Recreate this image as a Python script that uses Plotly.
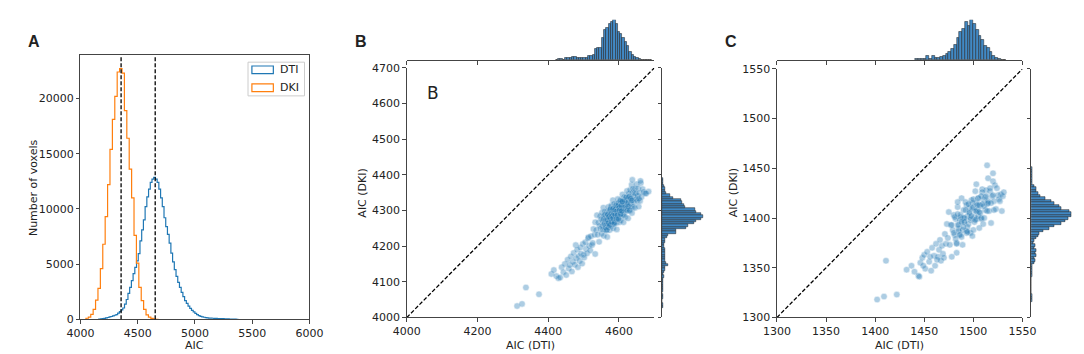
"""
AIC comparison of DTI and DKI fits: histograms and joint scatter plots.
"""

import numpy as np
import plotly.graph_objects as go

W, H = 1084, 354

# ---- panel A: step histograms of AIC per voxel ----
dti_bin_start, dti_bin_width = 4160, 15
dti_counts = [20, 40, 60, 90, 130, 170, 220, 260, 310, 370, 430, 560, 700, 850, 1030,
              1380, 1800, 2350, 2900, 3500, 4150, 4700, 5300, 5950, 7100, 8100, 9000,
              10200, 11100, 11800, 12400, 12700, 12850, 12700, 12400, 11800, 11000, 10200,
              9200, 8400, 7700, 6900, 6000, 5200, 4500, 3900, 3350, 2900, 2450, 2050, 1700,
              1450, 1200, 1000, 820, 680, 540, 420, 330, 270, 220, 190, 160, 140, 120, 110,
              100, 90, 80, 75, 70, 65, 60, 50, 40, 35, 30, 25, 20, 15, 10]
dki_bin_start, dki_bin_width = 4048, 21
dki_counts = [100, 200, 450, 900, 1750, 2800, 4600, 6800, 9300, 12200, 15400, 18100,
              20200, 22400, 22700, 22300, 18900, 16400, 13600, 11000, 7600, 5100, 2900,
              1700, 900, 400, 200, 80, 30, 10]
aic_medians = [4355, 4653]

# ---- panel B: whole-brain AIC, DTI vs DKI ----
b_lim = [4000, 4700]
b_points = [
    # outliers and lower tail
    (4312, 4032), (4326, 4038), (4337, 4084), (4374, 4065),
    (4409, 4122), (4416, 4133), (4423, 4116), (4429, 4110), (4434, 4112), (4438, 4141),
    (4443, 4127), (4447, 4150), (4451, 4119), (4455, 4162), (4458, 4137), (4461, 4147),
    (4464, 4171), (4467, 4129), (4470, 4156), (4472, 4181), (4475, 4148), (4478, 4203),
    (4479, 4166), (4482, 4190), (4484, 4141), (4486, 4172), (4489, 4158), (4491, 4196),
    (4493, 4179), (4496, 4151), (4498, 4206), (4500, 4176), (4502, 4168), (4505, 4211),
    (4507, 4192), (4510, 4180), (4513, 4222), (4514, 4225), (4516, 4201), (4519, 4188),
    (4521, 4228), (4524, 4203), (4533, 4178),
    # main cloud
    (4526, 4209), (4528, 4248), (4531, 4232), (4533, 4267), (4536, 4245), (4538, 4287),
    (4540, 4232), (4542, 4266), (4544, 4212), (4545, 4257), (4547, 4284), (4548, 4249),
    (4550, 4276), (4551, 4235), (4552, 4294), (4553, 4256), (4554, 4271), (4555, 4247),
    (4556, 4308), (4557, 4229), (4558, 4285), (4559, 4265), (4560, 4297), (4561, 4246),
    (4562, 4274), (4563, 4259), (4564, 4285), (4565, 4243), (4566, 4297), (4567, 4226),
    (4568, 4284), (4569, 4268), (4570, 4310), (4571, 4262), (4572, 4277), (4573, 4296),
    (4574, 4245), (4575, 4283), (4576, 4260), (4577, 4309), (4578, 4256), (4579, 4315),
    (4580, 4278), (4581, 4293), (4582, 4269), (4583, 4329), (4584, 4250), (4585, 4307),
    (4586, 4287), (4587, 4319), (4588, 4267), (4589, 4295), (4590, 4281), (4591, 4307),
    (4592, 4265), (4593, 4318), (4594, 4247), (4595, 4306), (4596, 4290), (4597, 4332),
    (4598, 4283), (4599, 4298), (4600, 4318), (4601, 4267), (4602, 4305), (4603, 4281),
    (4604, 4330), (4605, 4272), (4606, 4311), (4607, 4293), (4608, 4327), (4609, 4303),
    (4610, 4345), (4611, 4289), (4612, 4322), (4613, 4267), (4614, 4312), (4615, 4338),
    (4616, 4304), (4617, 4330), (4618, 4282), (4619, 4321), (4620, 4303), (4621, 4338),
    (4622, 4314), (4623, 4355), (4624, 4299), (4625, 4332), (4626, 4278), (4627, 4323),
    (4628, 4348), (4629, 4314), (4630, 4340), (4631, 4299), (4632, 4358), (4633, 4320),
    (4634, 4335), (4635, 4311), (4636, 4372), (4637, 4293), (4638, 4349), (4639, 4329),
    (4640, 4361), (4641, 4310), (4642, 4338), (4643, 4323), (4644, 4349), (4645, 4307),
    (4646, 4361), (4648, 4348), (4649, 4332), (4650, 4374), (4652, 4327), (4653, 4341),
    (4655, 4362), (4656, 4311), (4658, 4349), (4660, 4327), (4662, 4377), (4664, 4338),
    (4667, 4360), (4670, 4352), (4674, 4348),
    (4556.5, 4276), (4558.5, 4262), (4560.5, 4288), (4562.5, 4252), (4564.5, 4274),
    (4566.5, 4263), (4568.5, 4290), (4570.5, 4253), (4572.5, 4284), (4574.5, 4278),
    (4576.5, 4305), (4578.5, 4269), (4580.5, 4292), (4582.5, 4279), (4584.5, 4305),
    (4586.5, 4262), (4588.5, 4291), (4590.5, 4305), (4592.5, 4282), (4594.5, 4300),
    (4596.5, 4277), (4598.5, 4321), (4600.5, 4296), (4602.5, 4311), (4604.5, 4288),
    (4606.5, 4304), (4608.5, 4325), (4610.5, 4299), (4612.5, 4313), (4614.5, 4287),
    (4616.5, 4324), (4618.5, 4310), (4620.5, 4336), (4622.5, 4300), (4624.5, 4322),
    (4626.5, 4311), (4628.5, 4338), (4630.5, 4301), (4633.5, 4333), (4636.5, 4328),
    (4566, 4246), (4568, 4274), (4569, 4288), (4571, 4265), (4572, 4282), (4574, 4259),
    (4575, 4302), (4577, 4278), (4578, 4291), (4580, 4268), (4581, 4284), (4583, 4304),
    (4584, 4278), (4586, 4292), (4587, 4265), (4589, 4302), (4590, 4287), (4592, 4314),
    (4593, 4276), (4595, 4298), (4596, 4287), (4598, 4313), (4599, 4276), (4601, 4307),
    (4602, 4300), (4604, 4327), (4605, 4290), (4607, 4314), (4608, 4299), (4610, 4325),
    # upper right stragglers
    (4638, 4386), (4661, 4383), (4684, 4353), (4677, 4348), (4657, 4333),
]
b_top_start, b_top_width = 4421, 6.5
b_top_counts = [1, 2, 2, 1, 3, 4, 4, 5, 5, 4, 4, 3, 3, 4, 6, 7, 8, 17, 18, 19, 33, 45,
                49, 55, 57, 60, 55, 43, 40, 34, 28, 21, 12, 8, 5, 3, 2, 1, 1, 1, 1, 1]
b_right_start, b_right_width = 4027, 6.5
b_right_counts = [2, 2, 0, 0, 1, 2, 0, 1, 2, 1, 1, 1, 2, 3, 2, 3, 4, 5, 9, 6, 4, 5, 5, 4,
                  5, 4, 3, 3, 4, 5, 7, 9, 20, 21, 35, 38, 48, 51, 57, 60, 58, 50, 49, 34,
                  32, 30, 28, 17, 12, 6, 5, 4, 3, 1, 1, 1]

# ---- panel C: white-matter AIC, DTI vs DKI ----
c_lim = [1300, 1550]
c_points = [
    # outliers and lower tail
    (1402, 1318), (1409, 1321), (1422, 1323), (1411, 1357),
    (1432, 1348), (1437, 1352), (1440, 1346), (1444, 1342), (1445, 1341), (1446, 1355),
    (1448, 1360), (1450, 1363), (1451, 1349), (1453, 1366), (1455, 1356), (1457, 1347),
    (1458, 1370), (1460, 1362), (1461, 1352), (1462, 1374), (1464, 1361), (1465, 1368),
    (1466, 1378), (1467, 1357), (1468, 1372), (1469, 1364), (1483, 1365), (1449, 1352),
    (1456, 1361), (1463, 1358),
    # main cloud
    (1470, 1360), (1471, 1384), (1472, 1374), (1473, 1394), (1474, 1380), (1475, 1406),
    (1476, 1373), (1477, 1393), (1478, 1361), (1479, 1388), (1480, 1403), (1481, 1383),
    (1482, 1399), (1483, 1375), (1484, 1411), (1485, 1389), (1486, 1398), (1487, 1383),
    (1488, 1420), (1489, 1373), (1490, 1408), (1491, 1396), (1492, 1416), (1493, 1385),
    (1494, 1402), (1495, 1394), (1496, 1410), (1497, 1385), (1498, 1418), (1499, 1382),
    (1500, 1411), (1501, 1401), (1502, 1427), (1503, 1399), (1504, 1408), (1505, 1420),
    (1506, 1390), (1507, 1412), (1508, 1399), (1509, 1429), (1510, 1394), (1511, 1418),
    (1512, 1408), (1513, 1428), (1514, 1414), (1515, 1440), (1516, 1407), (1517, 1427),
    (1518, 1395), (1519, 1422), (1520, 1437), (1521, 1417), (1522, 1433), (1523, 1409),
    (1524, 1430), (1525, 1423), (1526, 1419), (1527, 1417), (1528, 1424), (1529, 1407),
    (1530, 1422),
    (1478, 1393), (1480, 1385), (1481, 1401), (1482, 1379), (1484, 1393), (1485, 1387),
    (1487, 1403), (1488, 1381), (1490, 1400), (1491, 1396), (1493, 1413), (1494, 1391),
    (1496, 1406), (1497, 1398), (1499, 1415), (1500, 1388), (1502, 1407), (1503, 1415),
    (1505, 1402), (1506, 1413), (1508, 1400), (1509, 1426), (1511, 1412), (1512, 1421),
    (1514, 1407), (1515, 1417), (1517, 1430), (1518, 1415), (1520, 1423), (1521, 1408),
    (1483, 1374), (1485, 1393), (1487, 1401), (1489, 1388), (1491, 1400), (1493, 1387),
    (1495, 1414), (1497, 1400), (1499, 1410), (1501, 1396), (1503, 1407), (1505, 1420),
    (1507, 1405), (1509, 1414), (1511, 1400), (1513, 1422), (1515, 1415), (1484, 1404),
    (1486, 1383), (1488, 1396), (1490, 1391), (1492, 1408), (1494, 1386), (1496, 1405),
    (1498, 1402), (1500, 1419), (1502, 1398), (1504, 1413), (1506, 1406), (1508, 1422),
    # upper stragglers
    (1484, 1416), (1514, 1453), (1520, 1445), (1531, 1426), (1503, 1434),
]
c_top_start, c_top_width = 1441, 2.8
c_top_counts = [2, 2, 2, 2, 6, 2, 6, 4, 4, 5, 7, 9, 12, 17, 23, 34, 42, 47, 58, 52, 60,
                55, 45, 36, 30, 22, 18, 12, 7, 4, 2, 1, 1]
c_right_start, c_right_width = 1316, 2.5
c_right_counts = [1, 1, 1, 0, 0, 0, 0, 0, 0, 0, 1, 1, 1, 1, 2, 5, 6, 5, 7, 6, 7, 5, 6, 3,
                  5, 7, 11, 12, 18, 27, 35, 44, 51, 55, 60, 59, 56, 45, 42, 34, 30, 21,
                  13, 11, 8, 7, 5, 1, 1, 1, 1, 1, 1, 1]

BLUE = '#1f77b4'
ORANGE = '#ff7f0e'
BAR_FILL = '#4289c4'
AXIS_COLOR = '#444444'
TICK_FONT = dict(family='DejaVu Sans', size=11, color='#222222')


def px_x(x):
    """Pixel column -> paper fraction."""
    return x / W


def px_y(y):
    """Pixel row (from top) -> paper fraction."""
    return 1 - y / H


def step_xy(start, width, counts):
    """Outline of a matplotlib-style step histogram."""
    edges = start + width * np.arange(len(counts) + 1)
    x = np.concatenate([[edges[0]], edges])
    y = np.concatenate([[0], counts, [0]])
    return x, y


def bin_centers(start, width, counts):
    return start + width * (np.arange(len(counts)) + 0.5)


def axis_style(**kw):
    base = dict(
        showgrid=False, zeroline=False, showline=True, linecolor=AXIS_COLOR, linewidth=1,
        ticks='outside', ticklen=3.5, tickwidth=1, tickcolor=AXIS_COLOR, tickfont=TICK_FONT,
    )
    base.update(kw)
    return base


fig = go.Figure()

# panel A
for start, width, counts, color in [
    (dti_bin_start, dti_bin_width, dti_counts, BLUE),
    (dki_bin_start, dki_bin_width, dki_counts, ORANGE),
]:
    sx, sy = step_xy(start, width, counts)
    fig.add_trace(go.Scatter(x=sx, y=sy, mode='lines', line=dict(color=color, width=1.2, shape='hv'),
                             xaxis='x', yaxis='y', hoverinfo='skip'))
for m in aic_medians:
    fig.add_shape(type='line', xref='x', yref='y domain', x0=m, x1=m, y0=0, y1=1,
                  line=dict(color='black', width=1.3, dash='4px,2px'))

# panels B and C
for pts, lim, top, right, ax in [
    (b_points, b_lim, (b_top_start, b_top_width, b_top_counts),
     (b_right_start, b_right_width, b_right_counts), 2),
    (c_points, c_lim, (c_top_start, c_top_width, c_top_counts),
     (c_right_start, c_right_width, c_right_counts), 5),
]:
    xs = [p[0] for p in pts]
    ys = [p[1] for p in pts]
    main_x, main_y = f'x{ax}', f'y{ax}'
    fig.add_trace(go.Scatter(
        x=lim, y=lim, mode='lines', line=dict(color='black', width=1.3, dash='4px,2px'),
        xaxis=main_x, yaxis=main_y, hoverinfo='skip'))
    fig.add_trace(go.Scatter(
        x=xs, y=ys, mode='markers', xaxis=main_x, yaxis=main_y,
        marker=dict(color=BLUE, size=6.5, opacity=0.36, line=dict(color='white', width=0.5))))
    fig.add_trace(go.Bar(
        x=bin_centers(*top), y=top[2], width=top[1], xaxis=f'x{ax + 1}', yaxis=f'y{ax + 1}',
        marker=dict(color=BAR_FILL, line=dict(color='#1a1a1a', width=0.5))))
    fig.add_trace(go.Bar(
        y=bin_centers(*right), x=right[2], width=right[1], orientation='h',
        xaxis=f'x{ax + 2}', yaxis=f'y{ax + 2}',
        marker=dict(color=BAR_FILL, line=dict(color='#1a1a1a', width=0.5))))

b_yticks = list(range(4000, 4701, 100))
c_ticks = list(range(1300, 1551, 50))

fig.update_layout(
    width=W, height=H,
    margin=dict(l=0, r=0, t=0, b=0),
    paper_bgcolor='white', plot_bgcolor='white',
    showlegend=False, bargap=0,
    # A
    xaxis=axis_style(domain=[px_x(60), px_x(295)], range=[4000, 6000], anchor='y', mirror=True,
                     tickvals=[4000, 4500, 5000, 5500, 6000]),
    yaxis=axis_style(domain=[px_y(317), px_y(43)], range=[0, 23900], anchor='x', mirror=True,
                     tickvals=[0, 5000, 10000, 15000, 20000], tickformat='d'),
    # B
    xaxis2=axis_style(domain=[px_x(395), px_x(649)], range=b_lim, anchor='y2',
                      tickvals=[4000, 4200, 4400, 4600]),
    yaxis2=axis_style(domain=[px_y(315), px_y(56)], range=b_lim, anchor='x2', tickvals=b_yticks),
    xaxis3=axis_style(domain=[px_x(395), px_x(649)], range=b_lim, anchor='y3', matches='x2',
                      tickvals=[4000, 4200, 4400, 4600], showticklabels=False),
    yaxis3=dict(domain=[px_y(48), px_y(6)], range=[0, 60.5], anchor='x3', visible=False),
    xaxis4=dict(domain=[px_x(657), px_x(700)], range=[0, 62], anchor='y4', visible=False),
    yaxis4=axis_style(domain=[px_y(315), px_y(56)], range=b_lim, anchor='x4', matches='y2',
                      tickvals=b_yticks, showticklabels=False),
    # C
    xaxis5=axis_style(domain=[px_x(775), px_x(1027)], range=c_lim, anchor='y5', tickvals=c_ticks),
    yaxis5=axis_style(domain=[px_y(315), px_y(57)], range=c_lim, anchor='x5', tickvals=c_ticks),
    xaxis6=axis_style(domain=[px_x(775), px_x(1027)], range=c_lim, anchor='y6', matches='x5',
                      tickvals=c_ticks, showticklabels=False),
    yaxis6=dict(domain=[px_y(48), px_y(6)], range=[0, 60.5], anchor='x6', visible=False),
    xaxis7=dict(domain=[px_x(1036), px_x(1078)], range=[0, 61], anchor='y7', visible=False),
    yaxis7=axis_style(domain=[px_y(315), px_y(57)], range=c_lim, anchor='x7', matches='y5',
                      tickvals=c_ticks, showticklabels=False),
)

# legend of panel A, drawn by hand to get matplotlib-like patches
fig.add_shape(type='rect', xref='paper', yref='paper', x0=px_x(232), x1=px_x(290),
              y0=px_y(85), y1=px_y(50), line=dict(color='#cccccc', width=1), fillcolor='white')
for (y0, y1), color in [((54, 62), BLUE), ((72.5, 80.5), ORANGE)]:
    fig.add_shape(type='rect', xref='paper', yref='paper', x0=px_x(236), x1=px_x(258),
                  y0=px_y(y1), y1=px_y(y0), line=dict(color=color, width=1.2))

annotations = [
    ('DTI', 263, 58, 11, 0, 'left', 'DejaVu Sans'),
    ('DKI', 263, 76.5, 11, 0, 'left', 'DejaVu Sans'),
    ('AIC', 177.5, 344, 11, 0, 'center', 'DejaVu Sans'),
    ('Number of voxels', 12, 180, 11, -90, 'center', 'DejaVu Sans'),
    ('AIC (DTI)', 522, 344, 11, 0, 'center', 'DejaVu Sans'),
    ('AIC (DKI)', 350, 185.5, 11, -90, 'center', 'DejaVu Sans'),
    ('AIC (DTI)', 901, 344, 11, 0, 'center', 'DejaVu Sans'),
    ('AIC (DKI)', 730, 186, 11, -90, 'center', 'DejaVu Sans'),
    ('<b>A</b>', 12, 29, 16, 0, 'center', 'Liberation Sans'),
    ('<b>B</b>', 348, 29, 16, 0, 'center', 'Liberation Sans'),
    ('<b>C</b>', 728, 29, 16, 0, 'center', 'Liberation Sans'),
    ('B', 422, 82, 17, 0, 'center', 'DejaVu Sans'),
]
for text, x, y, size, angle, anchor, family in annotations:
    fig.add_annotation(text=text, xref='paper', yref='paper', x=px_x(x), y=px_y(y),
                       xanchor=anchor, yanchor='middle', showarrow=False, textangle=angle,
                       font=dict(family=family, size=size, color='#222222'))

fig.write_html("out.html")
